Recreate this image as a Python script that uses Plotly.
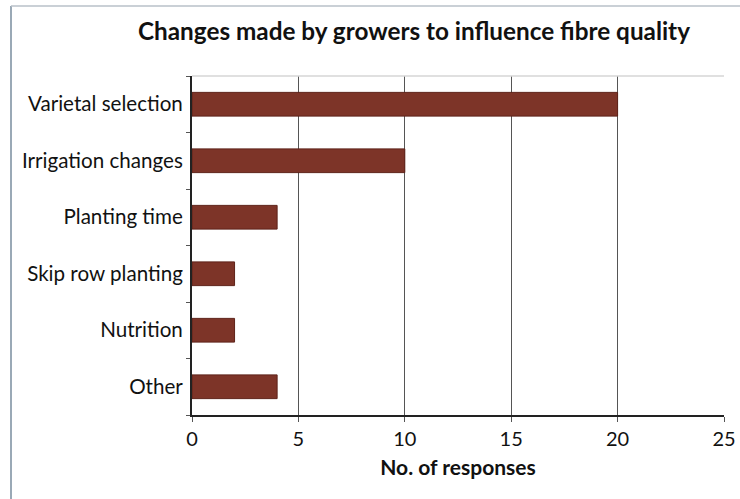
import plotly.graph_objects as go

categories = ["Varietal selection", "Irrigation changes", "Planting time",
              "Skip row planting", "Nutrition", "Other"]
responses = [20, 10, 4, 2, 2, 4]
x_ticks = [0, 5, 10, 15, 20, 25]

W, H = 740, 499
L, R, T, B = 192, 16, 76, 84

fig = go.Figure(go.Bar(
    y=categories,
    x=responses,
    orientation="h",
    width=0.42,
    marker=dict(color="#7d3428", line=dict(color="#5e2219", width=1)),
))

fig.update_layout(
    width=W, height=H,
    margin=dict(l=L, r=R, t=T, b=B, autoexpand=False),
    paper_bgcolor="white",
    plot_bgcolor="white",
    font=dict(family="Lato, Open Sans, sans-serif", color="#111111"),
    showlegend=False,
    title=dict(
        text="<b>Changes made by growers to influence fibre quality</b>",
        x=414 / W, xanchor="center",
        y=1 - 31 / H, yanchor="middle",
        font=dict(size=24.3, color="#111111"),
    ),
)

fig.update_xaxes(
    range=[0, 25],
    tickvals=x_ticks,
    ticktext=[str(v) for v in x_ticks],
    showgrid=True, gridcolor="#555555", gridwidth=1,
    showline=True, linecolor="#222222", linewidth=2,
    ticks="outside", ticklen=5, tickcolor="#555555",
    tickfont=dict(size=20),
    title=dict(text="<b>No. of responses</b>", font=dict(size=21), standoff=11),
    zeroline=False,
    automargin=False,
)

fig.update_yaxes(
    categoryorder="array",
    categoryarray=categories[::-1],
    showline=True, linecolor="#222222", linewidth=2,
    ticks="outside", ticklen=4, tickcolor="#555555",
    tickson="boundaries",
    showgrid=False,
    tickfont=dict(size=20.6),
    ticklabelstandoff=3,
    automargin=False,
)

# faint top edge of the plotting area
fig.add_shape(type="line", xref="x domain", yref="y domain",
              x0=0, x1=1, y0=1, y1=1,
              line=dict(color="#d6d6d6", width=1.5))

# outer frame: left and top edges of the figure panel
fl = (11 - L) / (W - L - R)
ft = 1 + (T - 6) / (H - T - B)
fb = 1 + (T - H) / (H - T - B)
fig.add_shape(type="line", xref="paper", yref="paper",
              x0=fl, x1=fl, y0=fb, y1=ft,
              line=dict(color="#9aa9b6", width=2))
fig.add_shape(type="line", xref="paper", yref="paper",
              x0=fl, x1=1 + R / (W - L - R), y0=ft, y1=ft,
              line=dict(color="#b8c0c8", width=1.5))

fig.write_html("out.html")
